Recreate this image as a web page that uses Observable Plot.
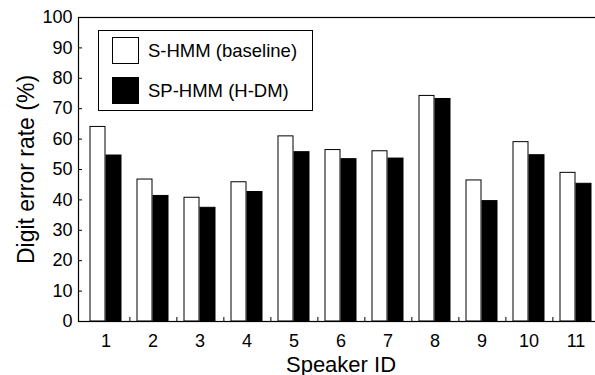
<!DOCTYPE html>
<html>
<head>
<meta charset="utf-8">
<script src="https://cdn.jsdelivr.net/npm/d3@7"></script>
<script src="https://cdn.jsdelivr.net/npm/@observablehq/plot@0.6"></script>
<style>
  html, body { margin: 0; padding: 0; background: #fff; overflow: hidden; width: 595px; height: 375px; }
  #wrap { position: relative; width: 595px; height: 375px; overflow: hidden; font-family: "Liberation Sans", Arial, sans-serif; }
  #chart svg { max-width: none !important; display: block; }
  #legend { position: absolute; left: 98px; top: 30px; width: 215px; height: 81px; border: 1px solid #000; background: #fff; box-sizing: border-box; }
  .row { position: absolute; left: 13px; display: flex; align-items: center; font-size: 18.5px; color: #000; }
  .sw { width: 27px; height: 27px; border: 1px solid #000; box-sizing: border-box; margin-right: 9px; }
</style>
</head>
<body>
<div id="wrap">
  <div id="chart"></div>
  <div id="legend"></div>
</div>
<script>
const speakers = ["1","2","3","4","5","6","7","8","9","10","11"];
const seriesNames = ["S-HMM (baseline)", "SP-HMM (H-DM)"];
const sHmm  = [64, 46.7, 40.7, 45.8, 60.9, 56.4, 56.0, 74.2, 46.4, 59.0, 48.9];
const spHmm = [54.6, 41.3, 37.4, 42.6, 55.7, 53.4, 53.6, 73.2, 39.6, 54.7, 45.3];
const yTicks = [0,10,20,30,40,50,60,70,80,90,100];
const seriesFill = ["#ffffff", "#000000"];

const base = speakers.map((s, i) => ({speaker: s, value: sHmm[i]}));
const prop = speakers.map((s, i) => ({speaker: s, value: spHmm[i]}));

const font = '"Liberation Sans", Arial, sans-serif';

const chart = Plot.plot({
  width: 603,
  height: 375,
  marginLeft: 78,
  marginRight: 0,
  marginTop: 17,
  marginBottom: 54,
  style: {fontFamily: font, background: "#fff", color: "#000", overflow: "hidden", maxWidth: "none"},
  x: {domain: speakers, paddingInner: 0.33, paddingOuter: 0.165},
  y: {domain: [0, 100]},
  marks: [
    Plot.barY(base, {x: "speaker", y: "value", fill: seriesFill[0], stroke: "#000", strokeWidth: 1, insetRight: 16}),
    Plot.barY(prop, {x: "speaker", y: "value", fill: seriesFill[1], stroke: "#000", strokeWidth: 1, insetLeft: 16}),
    Plot.frame({stroke: "#000", strokeWidth: 1.2}),
    Plot.axisY({ticks: yTicks, tickSize: -4, tickPadding: 10, fontSize: 18, label: null}),
    Plot.axisX({tickSize: 0, tickPadding: 13, fontSize: 18, label: null}),
    Plot.axisX({tickSize: -4, dx: 23.86, text: null, label: null}),
    Plot.text(["Digit error rate (%)"], {frameAnchor: "left", textAnchor: "middle", dx: -52, rotate: -90, fontSize: 23, fill: "#000"}),
    Plot.text(["Speaker ID"], {frameAnchor: "bottom", dy: 50, fontSize: 22, fill: "#000"})
  ]
});
document.getElementById("chart").appendChild(chart);

const legend = document.getElementById("legend");
seriesNames.forEach((name, i) => {
  const row = document.createElement("div");
  row.className = "row";
  row.style.top = (i === 0 ? 6 : 46) + "px";
  const sw = document.createElement("div");
  sw.className = "sw";
  sw.style.background = seriesFill[i];
  const t = document.createElement("span");
  t.textContent = name;
  row.appendChild(sw);
  row.appendChild(t);
  legend.appendChild(row);
});
</script>
</body>
</html>
